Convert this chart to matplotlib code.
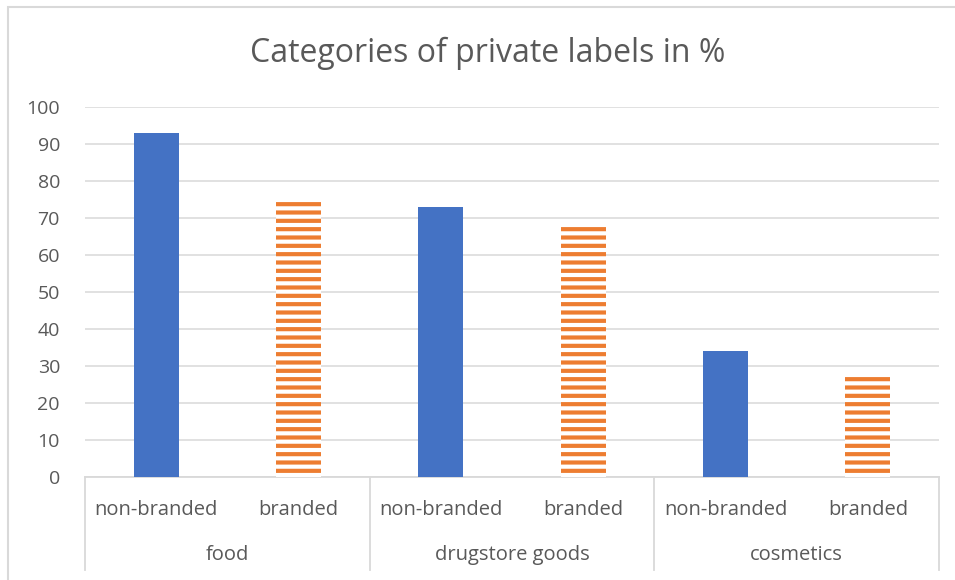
import matplotlib.pyplot as plt
import matplotlib as mpl
from matplotlib.patches import Rectangle
import numpy as np

groups = ['food', 'drugstore goods', 'cosmetics']
sub_labels = ['non-branded', 'branded']
non_branded = [93, 73, 34]
branded = [75.5, 68.6, 27.9]
yticks = [0, 10, 20, 30, 40, 50, 60, 70, 80, 90, 100]

plt.rcParams['font.family'] = ['Open Sans', 'DejaVu Sans']
plt.rcParams['hatch.linewidth'] = 3.0

txt = '#595959'
grid = '#d9d9d9'

fig = plt.figure(figsize=(9.55, 5.8), dpi=100)
W, H = 955, 580
ax = fig.add_axes([85 / W, 103 / H, (939 - 85) / W, 370 / H])

# outer chart border (cropped on right/bottom)
fig.patches.append(Rectangle((8 / W, -0.1), 1.2, (580 - 7) / H + 0.1,
                             transform=fig.transFigure, fill=False,
                             edgecolor=grid, linewidth=1.5))

x = np.arange(len(groups)) * 2
bw = 0.316
ax.bar(x, non_branded, width=bw, color='#4472c4', zorder=3)
ax.bar(x + 1, branded, width=bw, facecolor='white', edgecolor='#ed7d31',
       linewidth=0, hatch='--', zorder=3)

ax.set_xlim(-0.5, 2 * len(groups) - 0.5)
ax.set_ylim(0, 100)
ax.set_yticks(yticks)
ax.set_yticklabels([str(t) for t in yticks], fontsize=14, color=txt)
ax.tick_params(axis='y', length=0, pad=18)
ax.set_xticks([])
ax.grid(axis='y', color=grid, linewidth=1.1, zorder=0)
for s in ['top', 'right', 'left']:
    ax.spines[s].set_visible(False)
ax.spines['bottom'].set_color(grid)
ax.spines['bottom'].set_linewidth(1.3)

# category axis: sub labels, group labels, separators
trans = mpl.transforms.blended_transform_factory(ax.transData, fig.transFigure)
for i, g in enumerate(groups):
    ax.text(x[i], (H - 510) / H, sub_labels[0], transform=trans,
            ha='center', va='center', fontsize=14.5, color=txt)
    ax.text(x[i] + 1, (H - 510) / H, sub_labels[1], transform=trans,
            ha='center', va='center', fontsize=14.5, color=txt)
    ax.text(x[i] + 0.5, (H - 555) / H, g, transform=trans,
            ha='center', va='center', fontsize=14.5, color=txt)
for b in np.arange(len(groups) + 1) * 2 - 0.5:
    ax.plot([b, b], [(H - 477) / H, (H - 570) / H], transform=trans,
            color=grid, linewidth=1.3, clip_on=False)

fig.text(488 / W, (H - 53) / H, 'Categories of private labels in %',
         ha='center', va='center', fontsize=23, color=txt)

fig.savefig('out.png', dpi=100)
